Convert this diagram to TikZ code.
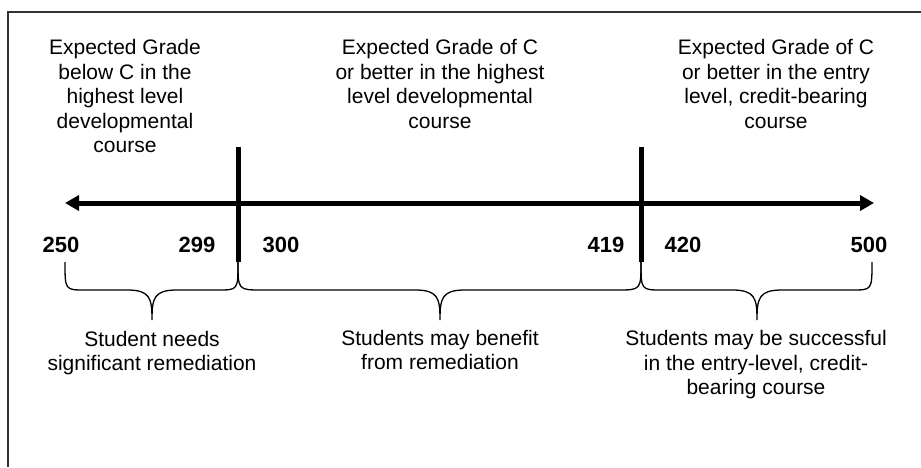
\documentclass[tikz,border=0pt]{standalone}
\usepackage{fontspec}
\setmainfont{Liberation Sans}
\usetikzlibrary{arrows.meta}
\begin{document}
\begin{tikzpicture}[x=1pt,y=-1pt,
  lbl/.style={inner sep=0pt,align=center,font=\fontsize{21}{24.5}\selectfont},
  num/.style={inner sep=0pt,font=\fontsize{22}{24.5}\selectfont\bfseries},
  frame/.style={draw=black!80,line width=1.2pt},
  axis/.style={line width=5pt,{Triangle[length=14pt,width=15pt]}-{Triangle[length=14pt,width=15pt]}},
  bar/.style={line width=5pt},
  brace/.style={line width=1.3pt}]
\useasboundingbox (0,0) rectangle (921,467);
\draw[frame] (8,467) -- (8,12) -- (921,12);
% axis
\coordinate (L) at (65,203);
\coordinate (R) at (874,203);
\draw[axis] (L) -- (R);
% bars
\coordinate (b1t) at (238,147); \coordinate (b1b) at (238,262);
\coordinate (b2t) at (641,147); \coordinate (b2b) at (641,262);
\draw[bar] (b1t) -- (b1b);
\draw[bar] (b2t) -- (b2b);
% numbers
\node[num] (n250) at (61,245) {250};
\node[num] (n299) at (197,245) {299};
\node[num] (n300) at (281,245) {300};
\node[num] (n419) at (606,245) {419};
\node[num] (n420) at (683,245) {420};
\node[num] (n500) at (869,245) {500};
% braces
\coordinate (e1) at (65,262);
\coordinate (e2) at (872,262);
\draw[brace] (e1) .. controls (65,290) .. (85,290) -- (127,290)
  .. controls (150,290) and (152,298) .. (152,320)
  .. controls (152,298) and (154,290) .. (177,290) -- (218,290)
  .. controls (238,290) .. (b1b);
\draw[brace] (b1b) .. controls (238,290) .. (262,290) -- (415,290)
  .. controls (438,290) and (440,298) .. (440,320)
  .. controls (440,298) and (442,290) .. (465,290) -- (617,290)
  .. controls (641,290) .. (b2b);
\draw[brace] (b2b) .. controls (641,290) .. (662,290) -- (732,290)
  .. controls (755,290) and (757,298) .. (757,320)
  .. controls (757,298) and (759,290) .. (782,290) -- (852,290)
  .. controls (872,290) .. (e2);
% top labels
\node[lbl] (t1) at (125,96) {Expected Grade\\below C in the\\highest level\\developmental\\course};
\node[lbl] (t2) at (440,84) {Expected Grade of C\\or better in the highest\\level developmental\\course};
\node[lbl] (t3) at (776,84) {Expected Grade of C\\or better in the entry\\level, credit-bearing\\course};
% bottom labels
\node[lbl] (s1) at (152,353) {Student needs\\significant remediation};
\node[lbl] (s2) at (440,350) {Students may benefit\\from remediation};
\node[lbl] (s3) at (756,365) {Students may be successful\\in the entry-level, credit-\\bearing course};
\end{tikzpicture}
\end{document}
